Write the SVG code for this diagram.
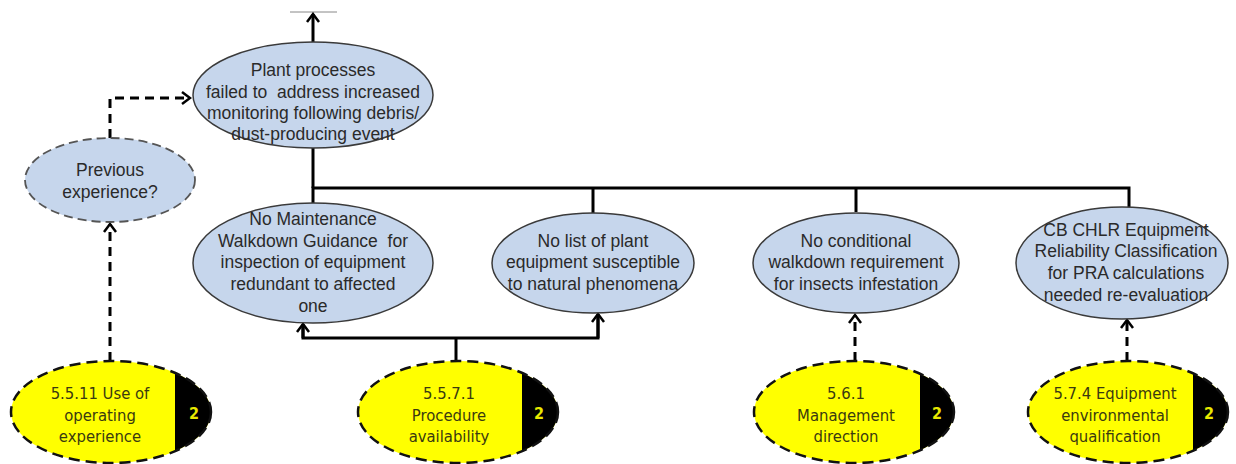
<svg xmlns="http://www.w3.org/2000/svg" width="1236" height="464" viewBox="0 0 1236 464">
<defs>
<style>
.blue{fill:#c6d6ec;stroke:#3a3a3a;stroke-width:1.5}
.prev{fill:#c6d6ec;stroke:#555;stroke-width:1.8;stroke-dasharray:9 5}
.yel{fill:none;stroke:#111;stroke-width:2.5;stroke-dasharray:11 6}
.yf{fill:#ffff00}
.t{font-family:"Liberation Sans",Arial,sans-serif;font-size:17.5px;fill:#2a2a2a;text-anchor:middle;white-space:pre}
.ty{font-family:"DejaVu Sans Condensed","DejaVu Sans",sans-serif;font-size:16.5px;fill:#3a3a10;text-anchor:middle}
.n{font-family:"DejaVu Sans Condensed","DejaVu Sans",sans-serif;font-size:16px;font-weight:bold;fill:#e8e800;text-anchor:middle}
.solid{fill:none;stroke:#000;stroke-width:3}
.dash{fill:none;stroke:#000;stroke-width:3;stroke-dasharray:9 6}
</style>
<marker id="ah" viewBox="-10 -8 12 16" refX="0" refY="0" markerWidth="12" markerHeight="16" markerUnits="userSpaceOnUse" orient="auto">
<path d="M -8 -6 L 0 0 L -8 6" fill="none" stroke="#000" stroke-width="2.5"/>
</marker>
<clipPath id="c1"><ellipse cx="111" cy="412" rx="100" ry="51"/></clipPath>
<clipPath id="c2"><ellipse cx="458" cy="412" rx="100" ry="51"/></clipPath>
<clipPath id="c3"><ellipse cx="854" cy="412" rx="100" ry="51"/></clipPath>
<clipPath id="c4"><ellipse cx="1128" cy="412" rx="100" ry="51"/></clipPath>
</defs>
<rect width="1236" height="464" fill="#fff"/>
<line x1="290" y1="12" x2="337" y2="12" stroke="#888" stroke-width="1"/>

<g id="connectors">
<line class="solid" x1="313" y1="42" x2="313" y2="14" marker-end="url(#ah)"/>
<polyline class="solid" points="313,148 313,188"/>
<polyline class="solid" points="313,203 313,188 1129,188 1129,207"/>
<line class="solid" x1="593" y1="188" x2="593" y2="213"/>
<line class="solid" x1="856" y1="188" x2="856" y2="212"/>
<polyline class="dash" points="110,138 110,98 190,98" marker-end="url(#ah)"/>
<line class="dash" x1="110" y1="361" x2="110" y2="224" marker-end="url(#ah)"/>
<line class="solid" x1="456" y1="361" x2="456" y2="338"/>
<polyline class="solid" points="303,325 303,338 598,338 598,315"/>
<line class="solid" x1="303" y1="338" x2="303" y2="324" marker-end="url(#ah)"/>
<line class="solid" x1="598" y1="338" x2="598" y2="314" marker-end="url(#ah)"/>
<line class="dash" x1="855" y1="361" x2="855" y2="315" marker-end="url(#ah)"/>
<line class="dash" x1="1127" y1="361" x2="1127" y2="320" marker-end="url(#ah)"/>
</g>

<g id="top">
<ellipse class="blue" cx="313" cy="95" rx="120" ry="53"/>
<text class="t" x="313" y="76">Plant processes</text>
<text class="t" x="313" y="98">failed to  address increased</text>
<text class="t" x="313" y="119">monitoring following debris/</text>
<text class="t" x="313" y="140">dust-producing event</text>
</g>

<g id="previous">
<ellipse class="prev" cx="110" cy="180" rx="85" ry="42"/>
<text class="t" x="110" y="176">Previous</text>
<text class="t" x="110" y="198">experience?</text>
</g>

<g id="child1">
<ellipse class="blue" cx="313" cy="263" rx="120" ry="60"/>
<text class="t" x="313" y="225">No Maintenance</text>
<text class="t" x="313" y="247">Walkdown Guidance  for</text>
<text class="t" x="313" y="268">inspection of equipment</text>
<text class="t" x="313" y="290">redundant to affected</text>
<text class="t" x="313" y="312">one</text>
</g>

<g id="child2">
<ellipse class="blue" cx="593" cy="263" rx="101" ry="50"/>
<text class="t" x="593" y="247">No list of plant</text>
<text class="t" x="593" y="268">equipment susceptible</text>
<text class="t" x="593" y="290">to natural phenomena</text>
</g>

<g id="child3">
<ellipse class="blue" cx="856" cy="263" rx="103" ry="50"/>
<text class="t" x="856" y="247">No conditional</text>
<text class="t" x="856" y="268">walkdown requirement</text>
<text class="t" x="856" y="290">for insects infestation</text>
</g>

<g id="child4">
<ellipse class="blue" cx="1122" cy="263" rx="106" ry="56"/>
<text class="t" x="1126" y="236">CB CHLR Equipment</text>
<text class="t" x="1126" y="257">Reliability Classification</text>
<text class="t" x="1126" y="279">for PRA calculations</text>
<text class="t" x="1126" y="301">needed re-evaluation</text>
</g>

<g id="f5511">
<ellipse class="yf" cx="111" cy="412" rx="100" ry="51"/>
<rect x="175" y="355" width="40" height="112" fill="#000" clip-path="url(#c1)"/>
<ellipse class="yel" cx="111" cy="412" rx="100" ry="51"/>
<text class="ty" x="100" y="399">5.5.11 Use of</text>
<text class="ty" x="100" y="421">operating</text>
<text class="ty" x="100" y="442">experience</text>
<text class="n" x="194" y="419">2</text>
</g>

<g id="f5571">
<ellipse class="yf" cx="458" cy="412" rx="100" ry="51"/>
<rect x="522" y="355" width="40" height="112" fill="#000" clip-path="url(#c2)"/>
<ellipse class="yel" cx="458" cy="412" rx="100" ry="51"/>
<text class="ty" x="449" y="399">5.5.7.1</text>
<text class="ty" x="449" y="421">Procedure</text>
<text class="ty" x="449" y="442">availability</text>
<text class="n" x="539" y="419">2</text>
</g>

<g id="f561">
<ellipse class="yf" cx="854" cy="412" rx="100" ry="51"/>
<rect x="920" y="355" width="40" height="112" fill="#000" clip-path="url(#c3)"/>
<ellipse class="yel" cx="854" cy="412" rx="100" ry="51"/>
<text class="ty" x="846" y="399">5.6.1</text>
<text class="ty" x="846" y="421">Management</text>
<text class="ty" x="846" y="442">direction</text>
<text class="n" x="937" y="419">2</text>
</g>

<g id="f574">
<ellipse class="yf" cx="1128" cy="412" rx="100" ry="51"/>
<rect x="1193" y="355" width="40" height="112" fill="#000" clip-path="url(#c4)"/>
<ellipse class="yel" cx="1128" cy="412" rx="100" ry="51"/>
<text class="ty" x="1115" y="399">5.7.4 Equipment</text>
<text class="ty" x="1115" y="421">environmental</text>
<text class="ty" x="1115" y="442">qualification</text>
<text class="n" x="1209" y="419">2</text>
</g>
</svg>
